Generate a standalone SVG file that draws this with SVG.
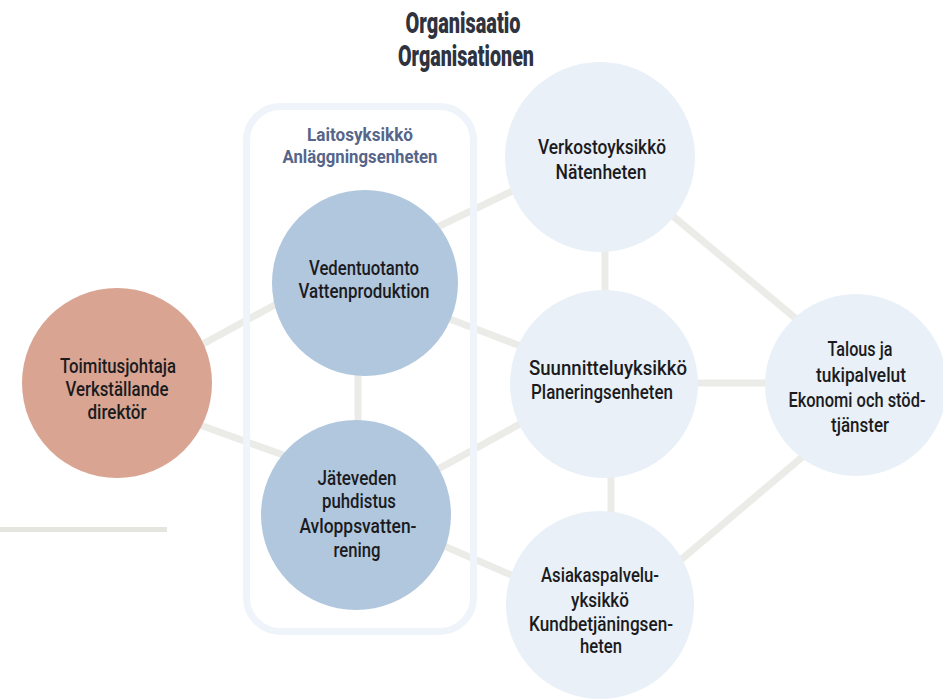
<svg xmlns="http://www.w3.org/2000/svg" width="943" height="700" viewBox="0 0 943 700">
  <style>
    .title { font-family: Roboto, "Liberation Sans", sans-serif; font-weight: 900; font-size: 30px; fill: #2f3340; text-anchor: middle; }
    .group-label { font-family: Roboto, "Liberation Sans", sans-serif; font-weight: 700; font-size: 19px; fill: #56658a; text-anchor: middle; }
    .node-text { font-family: Roboto, "Liberation Sans", sans-serif; font-weight: 500; font-size: 21px; fill: #1b1b1e; text-anchor: middle; }
    .link { stroke: #ebebe8; stroke-width: 7; stroke-linecap: butt; fill: none; }
    .ceo { fill: #d9a592; }
    .plant { fill: #b0c7de; }
    .unit { fill: #e9f0f7; }
    .frame { fill: none; stroke: #eef4fa; stroke-width: 7; }
  </style>

  <!-- heading -->
  <g id="title">
    <text class="title" x="463" y="33" textLength="115" lengthAdjust="spacingAndGlyphs">Organisaatio</text>
    <text class="title" x="466" y="66" textLength="136" lengthAdjust="spacingAndGlyphs">Organisationen</text>
  </g>

  <!-- decorative rule -->
  <line x1="0" y1="529.5" x2="167" y2="529.5" stroke="#e5e5e0" stroke-width="5"/>

  <!-- connectors -->
  <g id="connectors">
    <line class="link" x1="150" y1="373" x2="300" y2="291"/>
    <line class="link" x1="150" y1="407" x2="300" y2="461"/>
    <line class="link" x1="358" y1="360" x2="358" y2="430"/>
    <line class="link" x1="400" y1="245" x2="560" y2="168"/>
    <line class="link" x1="400" y1="300" x2="560" y2="361"/>
    <line class="link" x1="400" y1="490" x2="560" y2="402"/>
    <line class="link" x1="400" y1="527" x2="560" y2="596"/>
    <line class="link" x1="605" y1="240" x2="605" y2="300"/>
    <line class="link" x1="611" y1="470" x2="611" y2="520"/>
    <line class="link" x1="650" y1="197" x2="830" y2="347"/>
    <line class="link" x1="690" y1="383" x2="770" y2="383"/>
    <line class="link" x1="650" y1="586" x2="840" y2="425"/>
  </g>

  <!-- plant unit frame -->
  <g id="plant-unit">
    <rect class="frame" x="246.5" y="106.5" width="227" height="525" rx="34"/>
    <text class="group-label" x="360" y="141" textLength="106" lengthAdjust="spacingAndGlyphs">Laitosyksikkö</text>
    <text class="group-label" x="360" y="163" textLength="155" lengthAdjust="spacingAndGlyphs">Anläggningsenheten</text>
  </g>

  <g id="ceo">
    <circle class="ceo" cx="117" cy="383" r="95"/>
    <text class="node-text" x="118" y="373" textLength="116" lengthAdjust="spacingAndGlyphs">Toimitusjohtaja</text>
    <text class="node-text" x="117" y="396" textLength="103" lengthAdjust="spacingAndGlyphs">Verkställande</text>
    <text class="node-text" x="117" y="419" textLength="59" lengthAdjust="spacingAndGlyphs">direktör</text>
  </g>

  <g id="water-production">
    <circle class="plant" cx="365" cy="283" r="93"/>
    <text class="node-text" x="364" y="275" textLength="110" lengthAdjust="spacingAndGlyphs">Vedentuotanto</text>
    <text class="node-text" x="364" y="298" textLength="131" lengthAdjust="spacingAndGlyphs">Vattenproduktion</text>
  </g>

  <g id="wastewater">
    <circle class="plant" cx="356" cy="515" r="95"/>
    <text class="node-text" x="357" y="485" textLength="79" lengthAdjust="spacingAndGlyphs">Jäteveden</text>
    <text class="node-text" x="359" y="508" textLength="74" lengthAdjust="spacingAndGlyphs">puhdistus</text>
    <text class="node-text" x="358" y="533" textLength="117" lengthAdjust="spacingAndGlyphs">Avloppsvatten-</text>
    <text class="node-text" x="357" y="557" textLength="47" lengthAdjust="spacingAndGlyphs">rening</text>
  </g>

  <g id="network">
    <circle class="unit" cx="600" cy="157" r="95"/>
    <text class="node-text" x="602" y="154" textLength="128" lengthAdjust="spacingAndGlyphs">Verkostoyksikkö</text>
    <text class="node-text" x="601" y="179" textLength="91" lengthAdjust="spacingAndGlyphs">Nätenheten</text>
  </g>

  <g id="planning">
    <circle class="unit" cx="604" cy="384" r="94"/>
    <text class="node-text" x="608" y="375" textLength="158" lengthAdjust="spacingAndGlyphs">Suunnitteluyksikkö</text>
    <text class="node-text" x="602" y="399" textLength="142" lengthAdjust="spacingAndGlyphs">Planeringsenheten</text>
  </g>

  <g id="customer-service">
    <circle class="unit" cx="600" cy="605" r="94"/>
    <text class="node-text" x="600" y="582" textLength="118" lengthAdjust="spacingAndGlyphs">Asiakaspalvelu-</text>
    <text class="node-text" x="600" y="607" textLength="58" lengthAdjust="spacingAndGlyphs">yksikkö</text>
    <text class="node-text" x="601" y="631" textLength="144" lengthAdjust="spacingAndGlyphs">Kundbetjäningsen-</text>
    <text class="node-text" x="601" y="653" textLength="42" lengthAdjust="spacingAndGlyphs">heten</text>
  </g>

  <g id="finance">
    <circle class="unit" cx="856" cy="385" r="91"/>
    <text class="node-text" x="860" y="356" textLength="65" lengthAdjust="spacingAndGlyphs">Talous ja</text>
    <text class="node-text" x="861" y="382" textLength="90" lengthAdjust="spacingAndGlyphs">tukipalvelut</text>
    <text class="node-text" x="857" y="407" textLength="137" lengthAdjust="spacingAndGlyphs">Ekonomi och stöd-</text>
    <text class="node-text" x="860" y="432" textLength="58" lengthAdjust="spacingAndGlyphs">tjänster</text>
  </g>
</svg>
